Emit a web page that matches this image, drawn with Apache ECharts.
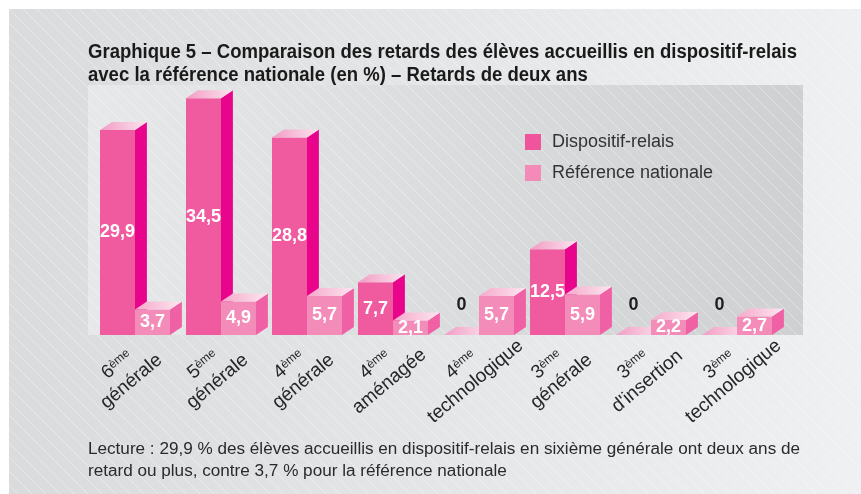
<!DOCTYPE html>
<html>
<head>
    <meta charset="utf-8">
    <title>Graphique 5 - Retards de deux ans</title>
    <script src="https://cdn.jsdelivr.net/npm/echarts@6/dist/echarts.min.js"></script>
    <style>
        body { margin: 0; background: #fff; }
        #chart { width: 861px; height: 494px; }
    </style>
</head>
<body>
    <div id="chart"></div>

    <script type="text/javascript">

        // données
        var grades = ['6', '5', '4', '4', '4', '3', '3', '3'];
        var tracks = ['générale', 'générale', 'générale', 'aménagée', 'technologique', 'générale', "d'insertion", 'technologique'];
        var dispositif = [29.9, 34.5, 28.8, 7.7, 0, 12.5, 0, 0];
        var reference = [3.7, 4.9, 5.7, 2.1, 5.7, 5.9, 2.2, 2.7];
        var seriesNames = ['Dispositif-relais', 'Référence nationale'];

        var titleLines = ['Graphique 5 – Comparaison des retards des élèves accueillis en dispositif-relais',
            'avec la référence nationale (en %) – Retards de deux ans'];
        var noteLines = ['Lecture : 29,9 % des élèves accueillis en dispositif-relais en sixième générale ont deux ans de',
            'retard ou plus, contre 3,7 % pour la référence nationale'];

        var FONT = '"Liberation Sans", Arial, sans-serif';
        var TITLE_FONT = 'bold 20px ' + FONT;
        var NOTE_FONT = '16px ' + FONT;

        // largeur du texte pour le resserrer comme la police condensée d'origine
        var measure = document.createElement('canvas').getContext('2d');
        function textWidth(font, txt) {
            measure.font = font;
            return measure.measureText(txt).width;
        }
        var titleScale = 709 / textWidth(TITLE_FONT, titleLines[0]);
        var noteScale = 712 / textWidth(NOTE_FONT, noteLines[0]);

        // petites rayures diagonales du fond
        var stripe = document.createElement('canvas');
        stripe.width = 14;
        stripe.height = 14;
        var ctx = stripe.getContext('2d');
        ctx.strokeStyle = 'rgba(255,255,255,0.35)';
        ctx.lineWidth = 1;
        ctx.beginPath();
        ctx.moveTo(0, 0);
        ctx.lineTo(14, 14);
        ctx.stroke();

        var chart = echarts.init(document.getElementById('chart'));

        function makeRender(side, colors) {
            return function (params, api) {
                var cat = api.value(0);
                var val = api.value(1);
                var top = api.coord([cat, val]);
                var base = api.coord([cat, 0]);
                var band = api.size([1, 0])[0];
                var bw = band * 0.407;
                var dx = bw * 0.34;
                var dy = 8;
                var x0 = side === 0 ? top[0] - bw : top[0];
                var x1 = x0 + bw;
                var yt = top[1];
                var yb = base[1];

                var children = [
                    {
                        type: 'polygon',
                        shape: { points: [[x1, yt], [x1 + dx, yt - dy], [x1 + dx, yb - dy], [x1, yb]] },
                        style: { fill: colors.side }
                    },
                    {
                        type: 'rect',
                        shape: { x: x0, y: yt, width: bw, height: yb - yt },
                        style: { fill: colors.front }
                    },
                    {
                        type: 'polygon',
                        shape: { points: [[x0, yt], [x0 + dx, yt - dy], [x1 + dx, yt - dy], [x1, yt]] },
                        style: {
                            fill: new echarts.graphic.LinearGradient(0, 0, 1, 0, [
                                { offset: 0, color: colors.top0 },
                                { offset: 1, color: colors.top1 }
                            ])
                        }
                    }
                ];

                var label = String(val).replace('.', ',');
                children.push({
                    type: 'text',
                    z2: 20,
                    style: {
                        text: label,
                        x: x0 + bw / 2,
                        y: val > 0 ? (yt + yb) / 2 : yb - 30,
                        align: 'center',
                        verticalAlign: 'middle',
                        fill: val > 0 ? '#ffffff' : '#1e1e1e',
                        font: 'bold 18px ' + FONT
                    }
                });

                return { type: 'group', children: children };
            };
        }

        var colDispositif = { front: '#f05a9f', side: '#e8058b', top0: '#f29cc4', top1: '#fbe3ee' };
        var colReference = { front: '#f48cba', side: '#f060a5', top0: '#f5a9cb', top1: '#fde6f0' };

        chart.setOption({
            animation: false,
            textStyle: { fontFamily: FONT },
            graphic: [
                {
                    type: 'rect', z: -30, silent: true,
                    shape: { x: 9, y: 9, width: 852, height: 485 },
                    style: {
                        fill: new echarts.graphic.LinearGradient(0, 0, 1, 0, [
                            { offset: 0, color: '#dadbdd' },
                            { offset: 1, color: '#eff0f1' }
                        ])
                    }
                },
                {
                    type: 'rect', z: -29, silent: true,
                    shape: { x: 88, y: 85, width: 715, height: 250 },
                    style: {
                        fill: new echarts.graphic.LinearGradient(0, 0, 1, 0, [
                            { offset: 0, color: '#e7e8ea' },
                            { offset: 1, color: '#cfd0d2' }
                        ])
                    }
                },
                {
                    type: 'rect', z: -28, silent: true,
                    shape: { x: 9, y: 9, width: 852, height: 485 },
                    style: { fill: { image: stripe, repeat: 'repeat' } }
                },
                {
                    type: 'text', x: 88, y: 41, scaleX: titleScale,
                    style: {
                        text: titleLines.join('\n'),
                        font: TITLE_FONT,
                        lineHeight: 23,
                        verticalAlign: 'top',
                        fill: '#1a1a1a'
                    }
                },
                {
                    type: 'text', x: 88, y: 439, scaleX: noteScale,
                    style: {
                        text: noteLines.join('\n'),
                        font: NOTE_FONT,
                        lineHeight: 22,
                        verticalAlign: 'top',
                        fill: '#2a2a2a'
                    }
                }
            ],
            legend: {
                orient: 'vertical',
                left: 525,
                top: 133,
                padding: 0,
                icon: 'rect',
                itemWidth: 16,
                itemHeight: 16,
                itemGap: 13,
                textStyle: { fontSize: 18, color: '#333', padding: [0, 0, 0, 6] },
                data: seriesNames
            },
            grid: { left: 92, right: 81, top: 85, bottom: 159 },
            xAxis: {
                type: 'category',
                data: tracks,
                axisLine: { show: false },
                axisTick: { show: false },
                axisLabel: {
                    interval: 0,
                    rotate: 40,
                    align: 'center',
                    verticalAlign: 'middle',
                    margin: 29,
                    padding: [0, 28, 0, 0],
                    color: '#262626',
                    formatter: function (v, i) {
                        return '{n|' + grades[i] + '}{s|ème}\n{t|' + tracks[i] + '}';
                    },
                    rich: {
                        n: { fontSize: 19, lineHeight: 22, color: '#262626' },
                        s: { fontSize: 12, verticalAlign: 'top', padding: [2, 0, 0, 0], color: '#262626' },
                        t: { fontSize: 19, lineHeight: 22, color: '#262626' }
                    }
                }
            },
            yAxis: {
                type: 'value',
                min: 0,
                max: 36.45,
                show: false,
                splitLine: { show: false }
            },
            series: [
                {
                    name: seriesNames[0],
                    type: 'custom',
                    itemStyle: { color: '#f0549d' },
                    renderItem: makeRender(0, colDispositif),
                    data: dispositif.map(function (v, i) { return [i, v]; })
                },
                {
                    name: seriesNames[1],
                    type: 'custom',
                    itemStyle: { color: '#f48ab8' },
                    renderItem: makeRender(1, colReference),
                    data: reference.map(function (v, i) { return [i, v]; })
                }
            ]
        });

    </script>
</body>
</html>
